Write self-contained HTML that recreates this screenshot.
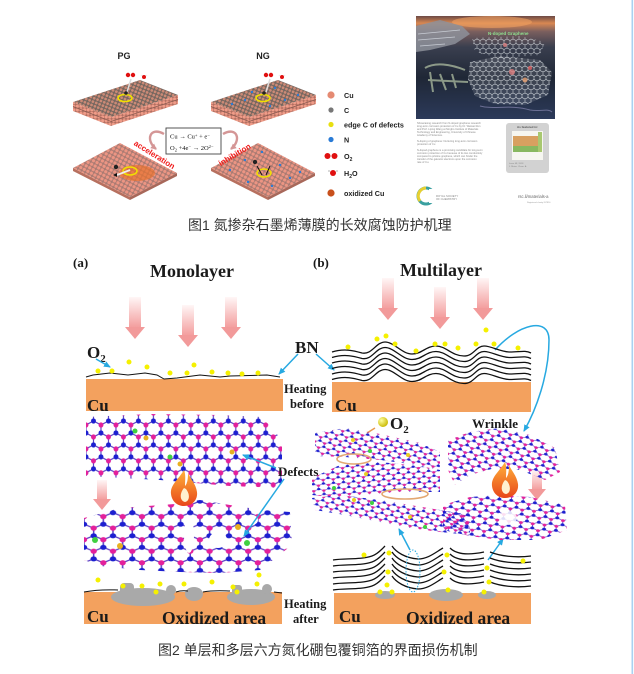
<!DOCTYPE html>
<html><head><meta charset="utf-8">
<style>
html,body{margin:0;padding:0;background:#fff;}
svg{display:block;}
.ser{font-family:"Liberation Serif","Noto Serif CJK SC",serif;font-weight:bold;fill:#1a1a1a;}
.san{font-family:"Liberation Sans",sans-serif;font-weight:bold;fill:#222;}
.cap{font-family:"Liberation Sans","Noto Sans CJK SC",sans-serif;fill:#333;font-size:14px;}
.tiny{font-family:"Liberation Sans",sans-serif;fill:#888;font-size:2.6px;}
</style></head><body>
<svg width="634" height="674" viewBox="0 0 634 674" xmlns="http://www.w3.org/2000/svg" xmlns:xlink="http://www.w3.org/1999/xlink">
<defs>
  <g id="hexcell">
    <g stroke="#5b3fc4" stroke-width="1.1">
      <line x1="7" y1="0" x2="7" y2="7"/>
      <line x1="7" y1="7" x2="0" y2="10.5"/>
      <line x1="7" y1="7" x2="14" y2="10.5"/>
      <line x1="0" y1="10.5" x2="0" y2="17.5"/>
      <line x1="14" y1="10.5" x2="14" y2="17.5"/>
      <line x1="0" y1="17.5" x2="7" y2="21"/>
      <line x1="14" y1="17.5" x2="7" y2="21"/>
    </g>
    <g fill="#e3209b">
      <circle cx="7" cy="0" r="2.3"/><circle cx="7" cy="21" r="2.3"/><circle cx="0" cy="10.5" r="2.3"/><circle cx="14" cy="10.5" r="2.3"/>
    </g>
    <g fill="#1c1fd0">
      <circle cx="7" cy="7" r="2.3"/><circle cx="0" cy="17.5" r="2.3"/><circle cx="14" cy="17.5" r="2.3"/>
    </g>
  </g>
  <pattern id="hexA" patternUnits="userSpaceOnUse" width="14" height="21" patternTransform="translate(86,413) scale(1.07,1.14)"><use xlink:href="#hexcell"/></pattern>
  <pattern id="hexA2" patternUnits="userSpaceOnUse" width="14" height="21" patternTransform="translate(84,505) scale(1.38,1.1)"><use xlink:href="#hexcell"/></pattern>
  <pattern id="hexB" patternUnits="userSpaceOnUse" width="14" height="21" patternTransform="translate(312,430) rotate(12) scale(0.72,0.5)"><use xlink:href="#hexcell"/></pattern>
  <pattern id="hexC" patternUnits="userSpaceOnUse" width="14" height="21" patternTransform="translate(312,465) rotate(-4) scale(0.72,0.5)"><use xlink:href="#hexcell"/></pattern>
  <pattern id="hexD" patternUnits="userSpaceOnUse" width="14" height="21" patternTransform="translate(440,495) rotate(6) scale(0.85,0.6)"><use xlink:href="#hexcell"/></pattern>
  <pattern id="hexE" patternUnits="userSpaceOnUse" width="14" height="21" patternTransform="translate(448,430) rotate(15) scale(0.8,0.55)"><use xlink:href="#hexcell"/></pattern>
  <pattern id="hexW" patternUnits="userSpaceOnUse" width="6" height="9">
    <g stroke="#e8eef2" stroke-width="0.6" fill="none">
      <path d="M3,0 L3,3 L0,4.5 L0,7.5 L3,9 M3,3 L6,4.5 L6,7.5 L3,9"/>
    </g>
  </pattern>
  <pattern id="cuTop" patternUnits="userSpaceOnUse" width="3.6" height="3.6" patternTransform="rotate(22)">
    <rect width="3.6" height="3.6" fill="#74665f"/><circle cx="1.8" cy="1.8" r="1.4" fill="#cc8a76"/>
  </pattern>
  <pattern id="cuSal" patternUnits="userSpaceOnUse" width="3.6" height="3.6">
    <rect width="3.6" height="3.6" fill="#b06e60"/><circle cx="1.8" cy="1.8" r="1.6" fill="#f09c88"/>
  </pattern>
  <pattern id="cuFace" patternUnits="userSpaceOnUse" width="4" height="4" patternTransform="rotate(28)">
    <rect width="4" height="4" fill="#a87a72"/><circle cx="2" cy="2" r="1.65" fill="#ec9583"/>
  </pattern>
  <linearGradient id="pk" x1="0" y1="0" x2="0" y2="1">
    <stop offset="0" stop-color="#fff6f6"/><stop offset="1" stop-color="#f39c9c"/>
  </linearGradient>
  <linearGradient id="fl" x1="0" y1="0" x2="0" y2="1">
    <stop offset="0" stop-color="#ffb23a"/><stop offset="1" stop-color="#e8461a"/>
  </linearGradient>
  <linearGradient id="cov" x1="0" y1="0" x2="0" y2="1">
    <stop offset="0" stop-color="#6d4a46"/>
    <stop offset="0.07" stop-color="#d98852"/>
    <stop offset="0.15" stop-color="#7b5f5e"/>
    <stop offset="0.3" stop-color="#3a3f4f"/>
    <stop offset="0.6" stop-color="#1f2736"/>
    <stop offset="1" stop-color="#2c3a5a"/>
  </linearGradient>
  <radialGradient id="yb" cx="0.35" cy="0.35" r="0.7">
    <stop offset="0" stop-color="#ffffa0"/><stop offset="1" stop-color="#c8b800"/>
  </radialGradient>
  <marker id="ab" markerWidth="8" markerHeight="8" refX="6" refY="3" orient="auto" markerUnits="userSpaceOnUse">
    <path d="M0,0 L7,3 L0,6 z" fill="#27a9e1"/>
  </marker>
  <marker id="ap" markerWidth="8" markerHeight="8" refX="5" refY="3" orient="auto" markerUnits="userSpaceOnUse">
    <path d="M0,0 L6,3 L0,6 z" fill="#d49696"/>
  </marker>
  <g id="flame">
    <path d="M184,470 C178,480 170,485 171,494 C172,502 178,506 184,506 C192,506 198,500 197,492 C196,484 190,478 188,473 C188,480 187,484 185,486 C185,480 186,475 184,470 Z" fill="url(#fl)"/>
    <path d="M184,488 C179,494 180,501 185,502 C190,501 190,494 186,489 Z" fill="#fff1d0"/>
  </g>
</defs>

<rect width="634" height="674" fill="#fff"/>
<rect x="631.5" y="0" width="1.6" height="674" fill="#a9d1f1"/>

<!-- ================= FIGURE 1 ================= -->
<text class="san" x="124" y="59" font-size="9" text-anchor="middle">PG</text>
<text class="san" x="263" y="59" font-size="9" text-anchor="middle">NG</text>

<g id="topslab">
  <polygon points="73,102 111,117 111,126 73,111" fill="url(#cuSal)"/>
  <polygon points="111,117 178,95 178,104 111,126" fill="url(#cuSal)"/>
  <path d="M73,106.5 L111,121.5 L178,99.5" stroke="#8a5a50" stroke-width="0.8" fill="none"/>
  <polygon points="140,80 178,95 111,117 73,102" fill="url(#cuTop)"/>
</g>
<use xlink:href="#topslab" transform="translate(138,0)"/>
<circle cx="128" cy="75" r="2.2" fill="#e01010"/><circle cx="133" cy="75" r="2.2" fill="#e01010"/>
<circle cx="144" cy="77" r="2" fill="#e01010"/><circle cx="141.5" cy="75.5" r="0.8" fill="#eee"/><circle cx="146.5" cy="75.5" r="0.8" fill="#eee"/>
<path d="M131,79 L127,92" stroke="#ddd" stroke-width="1.5"/>
<ellipse cx="125" cy="98" rx="7" ry="3.5" fill="none" stroke="#f0e000" stroke-width="1.6"/>
<circle cx="126" cy="93" r="1.8" fill="#222"/>
<circle cx="266" cy="75" r="2.2" fill="#e01010"/><circle cx="271" cy="75" r="2.2" fill="#e01010"/>
<circle cx="282" cy="77" r="2" fill="#e01010"/><circle cx="279.5" cy="75.5" r="0.8" fill="#eee"/><circle cx="284.5" cy="75.5" r="0.8" fill="#eee"/>
<path d="M270,79 L266,92" stroke="#ddd" stroke-width="1.5"/>
<ellipse cx="263" cy="98" rx="7" ry="3.5" fill="none" stroke="#f0e000" stroke-width="1.6"/>
<circle cx="264" cy="93" r="1.8" fill="#222"/>
<g fill="#2a7bd6">
  <circle cx="245" cy="100" r="1.2"/><circle cx="252" cy="92" r="1.2"/><circle cx="275" cy="88" r="1.2"/><circle cx="285" cy="100" r="1.2"/><circle cx="298" cy="95" r="1.2"/><circle cx="232" cy="104" r="1.2"/><circle cx="270" cy="106" r="1.2"/>
</g>

<g id="botslab">
  <polygon points="73,168 130,197 130,200 73,171" fill="#b7705f"/>
  <polygon points="130,197 177,173 177,176 130,200" fill="#a8685a"/>
  <polygon points="120,143 177,173 130,197 73,168" fill="url(#cuFace)"/>
</g>
<use xlink:href="#botslab" transform="translate(138,0)"/>
<ellipse cx="137" cy="173" rx="18" ry="8" fill="#e8702a" opacity="0.65"/>
<ellipse cx="130" cy="171" rx="7" ry="4" fill="none" stroke="#f0e000" stroke-width="1.5"/>
<path d="M130,170 L117,175" stroke="#eee" stroke-width="1.8"/>
<path d="M117,173 L113,175 L117,177 z" fill="#111"/>
<circle cx="116" cy="167" r="2.2" fill="#222"/>
<ellipse cx="264" cy="173" rx="7" ry="4" fill="none" stroke="#f0e000" stroke-width="1.5"/>
<circle cx="255" cy="162" r="2.2" fill="#222"/>
<path d="M257,166 L262,175 M270,166 L266,175" stroke="#111" stroke-width="1"/>
<g fill="#2a7bd6">
  <circle cx="230" cy="170" r="1.2"/><circle cx="245" cy="160" r="1.2"/><circle cx="280" cy="165" r="1.2"/><circle cx="290" cy="178" r="1.2"/><circle cx="300" cy="172" r="1.2"/><circle cx="248" cy="182" r="1.2"/><circle cx="272" cy="186" r="1.2"/><circle cx="262" cy="152" r="1.2"/>
</g>
<text class="san" font-size="8" style="fill:#f01a1a" transform="translate(153,157) rotate(32)" text-anchor="middle">acceleration</text>
<text class="san" font-size="8" style="fill:#f01a1a" transform="translate(236,157) rotate(-31)" text-anchor="middle">inhibition</text>

<rect x="166" y="128" width="55" height="26" fill="#fff" stroke="#444" stroke-width="0.9"/>
<text x="170" y="138.5" font-family="Liberation Serif,serif" font-size="6.5" fill="#111">Cu → Cu<tspan dy="-2" font-size="4.5">+</tspan><tspan dy="2"> + e</tspan><tspan dy="-2" font-size="4.5">−</tspan></text>
<text x="170" y="150" font-family="Liberation Serif,serif" font-size="6.5" fill="#111">O<tspan dy="1.5" font-size="4.5">2</tspan><tspan dy="-1.5"> +4e</tspan><tspan dy="-2" font-size="4.5">−</tspan><tspan dy="2"> → 2O</tspan><tspan dy="-2" font-size="4.5">2−</tspan></text>
<path d="M164,134 C150,126 145,140 156,149" fill="none" stroke="#d49696" stroke-width="2.4" marker-end="url(#ap)"/>
<path d="M223,134 C237,126 242,140 231,149" fill="none" stroke="#d49696" stroke-width="2.4" marker-end="url(#ap)"/>

<circle cx="331" cy="95" r="3.6" fill="#e58a72"/>
<circle cx="331" cy="110" r="2.6" fill="#777"/>
<circle cx="331" cy="124.5" r="2.6" fill="#e8df10"/>
<circle cx="331" cy="139.5" r="2.6" fill="#2a7bd6"/>
<circle cx="327.5" cy="156" r="3" fill="#e01010"/><circle cx="334.5" cy="156" r="3" fill="#e01010"/>
<circle cx="333" cy="173" r="3" fill="#e01010"/><circle cx="329" cy="171" r="1" fill="#ccc"/><circle cx="337" cy="171" r="1" fill="#ccc"/>
<circle cx="331" cy="193" r="3.6" fill="#c8501c"/>
<g class="san" font-size="7.2">
  <text x="344" y="98">Cu</text>
  <text x="344" y="113">C</text>
  <text x="344" y="127.5">edge C of defects</text>
  <text x="344" y="142.5">N</text>
  <text x="344" y="159">O<tspan dy="2" font-size="5">2</tspan></text>
  <text x="344" y="176">H<tspan dy="2" font-size="5">2</tspan><tspan dy="-2">O</tspan></text>
  <text x="344" y="196">oxidized Cu</text>
</g>

<rect x="416" y="16" width="139" height="103" fill="url(#cov)"/>
<ellipse cx="492" cy="22" rx="40" ry="6" fill="#f0a060" opacity="0.6"/>
<polygon points="416,26 440,20 462,26 470,34 455,44 430,50 416,52" fill="#8d909a" opacity="0.85"/>
<path d="M418,34 L460,30 M418,40 L455,37 M420,46 L445,44" stroke="#c8ccd4" stroke-width="0.8"/>
<polygon points="472,38 520,36 545,42 540,55 500,58 475,52" fill="url(#hexW)" opacity="0.8"/>
<text x="488" y="35" font-family="Liberation Sans,sans-serif" font-weight="bold" font-size="4.5" fill="#8fe08f">N-doped Graphene</text>
<polygon points="470,62 500,56 540,60 552,72 548,95 525,105 495,104 475,96 468,80" fill="url(#hexW)" opacity="0.85"/>
<polygon points="470,62 500,56 540,60 552,72 548,95 525,105 495,104 475,96 468,80" fill="#ffffff" opacity="0.12"/>
<circle cx="512" cy="72" r="3" fill="#e08080" opacity="0.8"/><circle cx="525" cy="80" r="2.5" fill="#e8a070" opacity="0.8"/><circle cx="530" cy="68" r="2" fill="#e06060" opacity="0.8"/><circle cx="505" cy="45" r="2" fill="#e08080" opacity="0.8"/>
<path d="M425,68 C435,62 450,64 465,70 M430,72 L433,92 M440,74 L446,90 M452,74 L456,88 M428,80 L468,82" stroke="#b8c8a8" stroke-width="2" fill="none" opacity="0.7"/>
<path d="M480,106 C495,110 510,104 530,110 C540,112 548,108 552,112" stroke="#8888b0" stroke-width="1" fill="none" opacity="0.7"/>
<g class="tiny">
  <text x="417" y="124">Showcasing research from N-doped graphene research</text>
  <text x="417" y="127">long-term corrosion protection of Cu by Dr. Weiwei Ren</text>
  <text x="417" y="130">and Prof. Liping Wang at Ningbo Institute of Materials</text>
  <text x="417" y="133">Technology and Engineering, University of Chinese</text>
  <text x="417" y="136">Academy of Sciences.</text>
  <text x="417" y="142">N-doping of graphene: Nurturing long-term corrosion</text>
  <text x="417" y="145">protection of Cu</text>
  <text x="417" y="151">N-doped graphene is a promising candidate for long-term</text>
  <text x="417" y="154">corrosion protection of Cu because of its low conductivity</text>
  <text x="417" y="157">compared to pristine graphene, which can hinder the</text>
  <text x="417" y="160">transfer of the galvanic electrons upon the corrosion</text>
  <text x="417" y="163">rate of Cu.</text>
</g>
<rect x="506" y="123" width="43" height="50" rx="3" fill="#d2d2d2"/>
<text x="527.5" y="128" font-family="Liberation Sans,sans-serif" font-weight="bold" font-size="3" fill="#555" text-anchor="middle">As featured in:</text>
<rect x="512" y="131" width="31" height="29" fill="#f6f6f0"/>
<rect x="513" y="136" width="29" height="10" fill="#d8a060"/>
<rect x="513" y="146" width="29" height="6" fill="#88b860"/>
<rect x="538" y="132" width="4" height="20" fill="#a8c870"/>
<g class="tiny" style="font-size:2.2px">
  <text x="509" y="164">Issue 48, 2018</text><text x="509" y="167">J. Mater. Chem. A</text>
</g>
<circle cx="426" cy="196" r="8" fill="none" stroke="#3aa0a0" stroke-width="3"/>
<path d="M426,188 A8,8 0 0,0 420,201" fill="none" stroke="#e8d030" stroke-width="3"/>
<rect x="429" y="189" width="8" height="14" fill="#fff"/>
<text x="436" y="197" font-family="Liberation Sans,sans-serif" font-size="2.8" fill="#888">ROYAL SOCIETY</text>
<text x="436" y="200" font-family="Liberation Sans,sans-serif" font-size="2.8" fill="#888">OF CHEMISTRY</text>
<text x="518" y="198" font-family="Liberation Sans,sans-serif" font-size="4.2" fill="#666">rsc.li/materials-a</text>
<text x="527" y="203" font-family="Liberation Sans,sans-serif" font-size="2" fill="#999">Registered charity 207890</text>

<text class="cap" x="188" y="230">图1 氮掺杂石墨烯薄膜的长效腐蚀防护机理</text>

<!-- ================= FIGURE 2 ================= -->
<text class="ser" x="73" y="267" font-size="13">(a)</text>
<text class="ser" x="313" y="267" font-size="13">(b)</text>
<text class="ser" x="150" y="277" font-size="18">Monolayer</text>
<text class="ser" x="400" y="276" font-size="18">Multilayer</text>

<g>
  <rect x="129" y="297" width="12" height="31" fill="url(#pk)"/><polygon points="125,327 145,327 135,339" fill="#f29a9a"/>
  <rect x="182" y="305" width="12" height="31" fill="url(#pk)"/><polygon points="178,335 198,335 188,347" fill="#f29a9a"/>
  <rect x="225" y="297" width="12" height="31" fill="url(#pk)"/><polygon points="221,327 241,327 231,339" fill="#f29a9a"/>
  <rect x="382" y="278" width="12" height="31" fill="url(#pk)"/><polygon points="378,308 398,308 388,320" fill="#f29a9a"/>
  <rect x="434" y="287" width="12" height="31" fill="url(#pk)"/><polygon points="430,317 450,317 440,329" fill="#f29a9a"/>
  <rect x="477" y="278" width="12" height="31" fill="url(#pk)"/><polygon points="473,308 493,308 483,320" fill="#f29a9a"/>
  <rect x="97" y="480" width="10" height="20" fill="url(#pk)"/><polygon points="93,499 111,499 102,510" fill="#f29a9a"/>
  <rect x="532" y="470" width="10" height="20" fill="url(#pk)"/><polygon points="528,489 546,489 537,500" fill="#f29a9a"/>
</g>

<rect x="86" y="379" width="197" height="32" fill="#f3a15e"/>
<path d="M86,377 L93,375 L110,373 L128,375 L145,373 L157,375 L164,379 L177,378 L200,375 L220,377 L230,376 L267,375 L280,377" fill="none" stroke="#111" stroke-width="1"/>
<g fill="#f5f000">
  <circle cx="98" cy="371" r="2.5"/><circle cx="112" cy="371" r="2.5"/><circle cx="129" cy="362" r="2.5"/><circle cx="147" cy="367" r="2.5"/><circle cx="170" cy="373" r="2.5"/><circle cx="187" cy="373" r="2.5"/><circle cx="194" cy="365" r="2.5"/><circle cx="212" cy="372" r="2.5"/><circle cx="228" cy="373" r="2.5"/><circle cx="242" cy="374" r="2.5"/><circle cx="258" cy="373" r="2.5"/>
</g>
<text class="ser" x="87" y="411" font-size="17">Cu</text>
<text class="ser" x="87" y="358" font-size="17">O<tspan dy="4" font-size="11">2</tspan></text>
<text class="ser" x="295" y="353" font-size="17">BN</text>
<text class="ser" x="284" y="393" font-size="12.5">Heating</text>
<text class="ser" x="290" y="408" font-size="12.5">before</text>
<g stroke="#27a9e1" stroke-width="1.5" fill="none" marker-end="url(#ab)">
  <path d="M96,359 L110,367"/>
  <path d="M298,354 L279,374"/>
  <path d="M316,354 L334,370"/>
  <path d="M495,350 C518,324 549,316 549,340 C549,375 536,410 524,431"/>
</g>

<rect x="332" y="382" width="199" height="30" fill="#f3a15e"/>
<g id="wv" fill="none" stroke="#111" stroke-width="1.3">
  <path d="M332,352 C345,348 355,351 362,353 C372,355 376,342 385,342 C394,342 402,354 412,354 C422,354 426,346 436,346 C446,346 452,356 464,356 C474,356 476,346 484,346 C492,346 500,352 510,352 C520,352 525,350 531,353"/>
</g>
<use xlink:href="#wv" transform="translate(0,5.5)"/>
<use xlink:href="#wv" transform="translate(0,11)"/>
<use xlink:href="#wv" transform="translate(0,16.5)"/>
<use xlink:href="#wv" transform="translate(0,22)"/>
<use xlink:href="#wv" transform="translate(0,27.5)"/>
<g fill="#f5f000">
  <circle cx="348" cy="347" r="2.5"/><circle cx="377" cy="339" r="2.5"/><circle cx="386" cy="336" r="2.5"/><circle cx="395" cy="344" r="2.5"/><circle cx="416" cy="351" r="2.5"/><circle cx="435" cy="344" r="2.5"/><circle cx="445" cy="344" r="2.5"/><circle cx="458" cy="348" r="2.5"/><circle cx="476" cy="344" r="2.5"/><circle cx="486" cy="330" r="2.5"/><circle cx="494" cy="344" r="2.5"/><circle cx="518" cy="348" r="2.5"/>
</g>
<text class="ser" x="335" y="411" font-size="17">Cu</text>
<circle cx="383" cy="422" r="5" fill="url(#yb)"/>
<text class="ser" x="390" y="429" font-size="17">O<tspan dy="4" font-size="11">2</tspan></text>
<path d="M375,428 L367,433" stroke="#e89a50" stroke-width="1.5"/>
<text class="ser" x="472" y="428" font-size="13">Wrinkle</text>

<!-- (a) lattice sheets -->
<polygon points="86,417 150,414 220,415 262,417 282,440 282,488 230,486 160,480 86,476" fill="url(#hexA)"/>
<polygon points="84,518 120,508 175,504 200,500 230,505 262,510 290,512 292,545 260,570 220,573 180,572 140,570 100,566 84,560" fill="url(#hexA2)"/>
<g fill="#fff">
  <ellipse cx="189" cy="535" rx="5" ry="18"/>
  <ellipse cx="218" cy="540" rx="9" ry="8"/>
  <ellipse cx="252" cy="520" rx="6" ry="5"/>
</g>
<g fill="#40d040"><circle cx="135" cy="431" r="2.5"/><circle cx="170" cy="457" r="2.5"/><circle cx="95" cy="540" r="3"/><circle cx="247" cy="543" r="3"/></g>
<g fill="#e8b020"><circle cx="146" cy="438" r="2.5"/><circle cx="232" cy="452" r="2.5"/><circle cx="120" cy="546" r="3"/><circle cx="238" cy="527" r="3"/><circle cx="180" cy="464" r="2.5"/></g>
<use xlink:href="#flame"/>
<text class="ser" x="278" y="476" font-size="13">Defects</text>
<g stroke="#27a9e1" stroke-width="1.5" fill="none" marker-end="url(#ab)">
  <path d="M276,468 L243,455"/>
  <path d="M284,479 L244,536"/>
  <path d="M188,606 L177,598"/>
  <path d="M410,603 L397,597"/>
  <path d="M410,550 L399,529"/>
  <path d="M488,560 L503,539"/>
</g>

<rect x="84" y="592" width="198" height="32" fill="#f3a15e"/>
<g fill="#a9a9a9">
  <ellipse cx="143" cy="597" rx="32" ry="9"/>
  <rect x="120" y="583" width="14" height="12" rx="4"/>
  <circle cx="171" cy="590" r="5"/>
  <ellipse cx="194" cy="594" rx="9" ry="7"/>
  <ellipse cx="251" cy="597" rx="24" ry="8"/>
  <rect x="232" y="585" width="10" height="10" rx="3"/>
  <circle cx="267" cy="589" r="5"/>
</g>
<path d="M84,592 C100,589 112,590 118,590 M176,592 C182,590 186,591 188,591 M203,592 C215,590 225,591 230,591 M274,592 L282,593" fill="none" stroke="#111" stroke-width="1"/>
<g fill="#f5f000">
  <circle cx="98" cy="580" r="2.5"/><circle cx="123" cy="586" r="2.5"/><circle cx="142" cy="586" r="2.5"/><circle cx="160" cy="584" r="2.5"/><circle cx="184" cy="584" r="2.5"/><circle cx="212" cy="582" r="2.5"/><circle cx="233" cy="587" r="2.5"/><circle cx="257" cy="584" r="2.5"/><circle cx="259" cy="575" r="2.5"/><circle cx="156" cy="592" r="2.5"/><circle cx="237" cy="592" r="2.5"/>
</g>
<text class="ser" x="87" y="622" font-size="17">Cu</text>
<text class="ser" x="162" y="624" font-size="17.5">Oxidized area</text>
<text class="ser" x="284" y="608" font-size="12.5">Heating</text>
<text class="ser" x="293" y="623" font-size="12.5">after</text>

<!-- (b) lattice ribbons -->
<polygon points="315,433 345,428 380,434 420,443 440,452 440,470 410,464 380,460 345,457 315,456" fill="url(#hexB)"/>
<polygon points="312,478 340,465 380,462 420,466 440,470 440,492 400,492 360,495 330,497 312,495" fill="url(#hexC)"/>
<polygon points="312,498 340,495 380,500 410,505 440,510 470,515 470,535 440,532 410,528 380,522 345,515 315,510" fill="url(#hexB)"/>
<polygon points="443,505 470,497 500,495 530,497 565,505 567,530 540,540 500,540 470,536 443,530" fill="url(#hexD)"/>
<polygon points="448,440 470,432 500,428 530,435 555,448 560,472 545,480 520,470 495,468 470,475 455,485 448,470" fill="url(#hexE)"/>
<ellipse cx="508" cy="518" rx="9" ry="7" fill="#fff" opacity="0.85"/>
<g fill="#40d040"><circle cx="370" cy="451" r="2"/><circle cx="334" cy="488" r="2"/><circle cx="372" cy="503" r="2"/><circle cx="425" cy="527" r="2"/></g>
<g fill="#e8d020"><circle cx="353" cy="440" r="2"/><circle cx="366" cy="474" r="2"/><circle cx="354" cy="500" r="2"/><circle cx="410" cy="517" r="2"/><circle cx="408" cy="455" r="2"/></g>
<g fill="none" stroke="#e3a872" stroke-width="1.6">
  <ellipse cx="354" cy="459" rx="17" ry="5"/>
  <ellipse cx="405" cy="494" rx="23" ry="5"/>
</g>
<use xlink:href="#flame" transform="translate(321,-8)"/>

<rect x="334" y="593" width="197" height="31" fill="#f3a15e"/>
<g fill="#a9a9a9">
  <ellipse cx="385" cy="595" rx="10" ry="4"/>
  <ellipse cx="446" cy="595" rx="17" ry="6"/>
  <ellipse cx="487" cy="595" rx="9" ry="4"/>
</g>
<g id="wv2" fill="none" stroke="#111" stroke-width="1.3">
  <path d="M333,560 C345,558 360,560 372,556 C378,554 382,549 385,546"/>
  <path d="M392,546 C396,552 405,558 418,559 C428,559 436,552 443,548"/>
  <path d="M450,548 C455,553 465,556 484,552"/>
  <path d="M490,552 C500,556 515,558 531,556"/>
</g>
<use xlink:href="#wv2" transform="translate(0,6)"/>
<use xlink:href="#wv2" transform="translate(0,12)"/>
<use xlink:href="#wv2" transform="translate(0,18)"/>
<use xlink:href="#wv2" transform="translate(0,24)"/>
<use xlink:href="#wv2" transform="translate(0,30)"/>
<ellipse cx="413" cy="571" rx="7" ry="21" fill="none" stroke="#27a9e1" stroke-width="1" stroke-dasharray="1.5 1.5"/>
<g fill="#f5f000">
  <circle cx="364" cy="555" r="2.5"/><circle cx="389" cy="553" r="2.5"/><circle cx="388" cy="572" r="2.5"/><circle cx="387" cy="585" r="2.5"/><circle cx="380" cy="592" r="2.5"/><circle cx="392" cy="592" r="2.5"/><circle cx="447" cy="555" r="2.5"/><circle cx="444" cy="572" r="2.5"/><circle cx="448" cy="590" r="2.5"/><circle cx="487" cy="568" r="2.5"/><circle cx="489" cy="582" r="2.5"/><circle cx="484" cy="592" r="2.5"/><circle cx="523" cy="561" r="2.5"/>
</g>
<text class="ser" x="339" y="622" font-size="17">Cu</text>
<text class="ser" x="406" y="624" font-size="17.5">Oxidized area</text>

<text class="cap" x="158" y="655">图2 单层和多层六方氮化硼包覆铜箔的界面损伤机制</text>
</svg>
</body></html>
